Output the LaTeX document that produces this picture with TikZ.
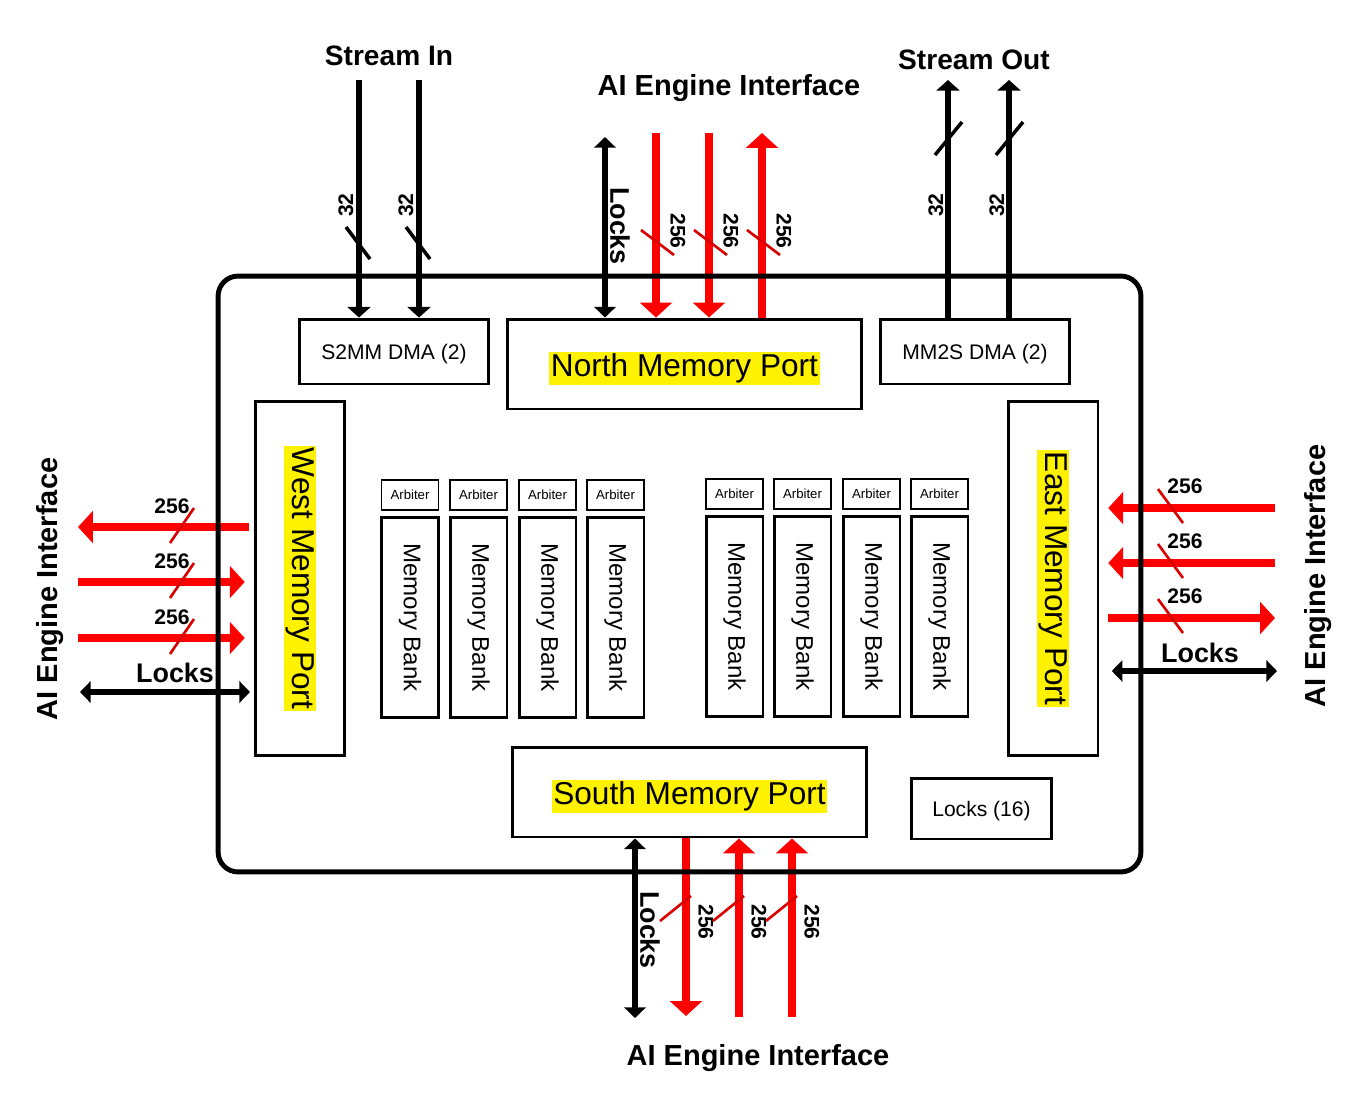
\documentclass[tikz,border=0pt]{standalone}
\usepackage{fontspec}
\setmainfont{Liberation Sans}
\usepackage{graphicx}
\usetikzlibrary{arrows.meta, positioning, calc}
\setlength{\fboxsep}{1pt}

\begin{document}
\begin{tikzpicture}[x=0.02cm, y=-0.02cm,
    frame/.style={draw, line width=2.8pt, rounded corners=0.4cm, minimum width=18.46cm, minimum height=11.92cm},
    box/.style={draw, line width=1.7pt, inner sep=1pt, text depth=0pt, font=\fontsize{12}{14}\selectfont},
    dma/.style={box, minimum width=3.8cm, minimum height=1.3cm},
    port/.style={box, minimum width=7.1cm, minimum height=1.8cm, font=\fontsize{18}{21}\selectfont},
    vport/.style={port, text depth=, minimum width=1.8cm, minimum height=7.1cm},
    arb/.style={draw, line width=1.1pt, minimum width=1.14cm, minimum height=0.6cm, inner sep=0pt, font=\fontsize{7.5}{9}\selectfont},
    bank/.style={draw, line width=1.7pt, minimum width=1.14cm, minimum height=4.02cm, inner sep=0pt, font=\fontsize{13.7}{16}\selectfont},
    title/.style={font=\bfseries\fontsize{16}{19}\selectfont},
    aie/.style={font=\bfseries\fontsize{16.5}{19}\selectfont},
    lockslbl/.style={font=\bfseries\fontsize{15.3}{18}\selectfont},
    width/.style={font=\bfseries\fontsize{12}{14}\selectfont, inner sep=0pt},
    blk/.style={line width=3.4pt, -{Triangle[length=6pt, width=13pt]}},
    blklock/.style={line width=3.4pt, {Triangle[length=6pt, width=12pt]}-{Triangle[length=6pt, width=12pt]}},
    redarr/.style={red, line width=4.8pt, -{Triangle[length=8.5pt, width=18pt]}},
    bmark/.style={line width=2pt},
    rmark/.style={red!85!black, line width=1.5pt}]

\useasboundingbox (0,0) rectangle (1347,1093);

% Titles
\node[title] (tStreamIn) at (389,56) {Stream In};
\node[aie] (tNorth) at (729,88) {AI Engine Interface};
\node[title] (tStreamOut) at (974,60) {Stream Out};
\node[aie] (tSouth) at (758,1058) {AI Engine Interface};
\node[aie, rotate=90] (tWest) at (50,589) {AI Engine Interface};
\node[aie, rotate=90] (tEast) at (1318,576) {AI Engine Interface};

% Outer ends of the connectors
\coordinate (sin1) at (359,80);
\coordinate (sin2) at (419,80);
\coordinate (nlk) at (605,137);
\coordinate (nr1) at (656,133);
\coordinate (nr2) at (709,133);
\coordinate (nr3) at (762,133);
\coordinate (sout1) at (948,80);
\coordinate (sout2) at (1009,80);
\coordinate (wr1) at (78,527);
\coordinate (wr2) at (78,582);
\coordinate (wr3) at (78,638);
\coordinate (wlk) at (80,692);
\coordinate (er1) at (1275,508);
\coordinate (er2) at (1275,563);
\coordinate (er3) at (1275,618);
\coordinate (elk) at (1277,671);
\coordinate (slk) at (635,1018);
\coordinate (sr1) at (686,1016);
\coordinate (sr2) at (739,1017);
\coordinate (sr3) at (792,1017);

% Memory tile boxes
\node[dma] (s2mm) at (394,351.5) {S2MM DMA (2)};
\node[port] (north) at (684.5,364) {\colorbox{yellow}{North Memory Port}};
\node[dma] (mm2s) at (975,351.5) {MM2S DMA (2)};
\node[vport] (west) at (300,578.5) {\rotatebox{-90}{\colorbox{yellow}{West Memory Port}}};
\node[vport] (east) at (1053,578.5) {\rotatebox{-90}{\colorbox{yellow}{East Memory Port}}};
\node[port] (south) at (689.5,792) {\colorbox{yellow}{South Memory Port}};
\node[box, minimum width=2.82cm, minimum height=1.22cm] (locks) at (981.5,808.5) {Locks (16)};

% Arbiters and banks
\foreach \i/\x/\y in {1/410/495, 2/478.5/495, 3/547.5/495, 4/615.5/495,
                      5/734.5/494, 6/802.5/494, 7/871.5/494, 8/939.5/494} {
    \node[arb] (arb\i) at (\x,\y) {Arbiter};
    \node[bank] (bank\i) at (\x,\y+122.5) {\rotatebox{-90}{Memory Bank}};
}

% Stream In
\draw[blk] (sin1) -- (sin1 |- s2mm.north);
\draw[blk] (sin2) -- (sin2 |- s2mm.north);
\draw[bmark] (346,227) -- (370,259);
\draw[bmark] (406,227) -- (430,259);
\node[width, rotate=90] (w32a) at (346,205) {32};
\node[width, rotate=90] (w32b) at (406,205) {32};

% North
\draw[blklock] (nlk) -- (nlk |- north.north);
\node[lockslbl, rotate=-90] (nlocks) at (620,226) {Locks};
\draw[redarr] (nr1) -- (nr1 |- north.north);
\draw[redarr] (nr2) -- (nr2 |- north.north);
\draw[redarr] (nr3 |- north.north) -- (nr3);
\foreach \x in {656,709,762} {
    \draw[rmark] (\x-15,230) -- (\x+18,255);
    \node[width, rotate=-90] at (\x+22,231) {256};
}

% Stream Out
\draw[blk] (sout1 |- mm2s.north) -- (sout1);
\draw[blk] (sout2 |- mm2s.north) -- (sout2);
\draw[bmark] (935,155) -- (962,122);
\draw[bmark] (996,155) -- (1023,122);
\node[width, rotate=90] (w32c) at (936,205) {32};
\node[width, rotate=90] (w32d) at (997,205) {32};

% West
\draw[redarr] (wr1 -| west.west) ++(-5,0) -- (wr1);
\draw[redarr] (wr2) -- ([xshift=-5]wr2 -| west.west);
\draw[redarr] (wr3) -- ([xshift=-5]wr3 -| west.west);
\draw[blklock] (wlk) -- ([xshift=-2]wlk -| west.west);
\foreach \y in {527,582,638} {
    \draw[rmark] (170,\y+16) -- (194,\y-19);
    \node[width] at (172,\y-21) {256};
}
\node[lockslbl] (wlocks) at (175,673) {Locks};

% East
\draw[redarr] (er1) -- ([xshift=5]er1 -| east.east);
\draw[redarr] (er2) -- ([xshift=5]er2 -| east.east);
\draw[redarr] ([xshift=5]er3 -| east.east) -- (er3);
\draw[blklock] ([xshift=7]elk -| east.east) -- (elk);
\foreach \y in {508,563,618} {
    \draw[rmark] (1158,\y-19) -- (1183,\y+15);
    \node[width] at (1185,\y-22) {256};
}
\node[lockslbl] (elocks) at (1200,653) {Locks};

% South
\draw[blklock] (slk |- south.south) -- (slk);
\node[lockslbl, rotate=-90] (slocks) at (650,930) {Locks};
\draw[redarr] (sr1 |- south.south) -- (sr1);
\draw[redarr] (sr2) -- (sr2 |- south.south);
\draw[redarr] (sr3) -- (sr3 |- south.south);
\foreach \x in {686,739,792} {
    \draw[rmark] (\x-26,921) -- (\x+5,896);
    \node[width, rotate=-90] at (\x+20,922) {256};
}

% Outer frame of the tile
\node[frame] (tile) at (679.5,574) {};

\end{tikzpicture}
\end{document}
